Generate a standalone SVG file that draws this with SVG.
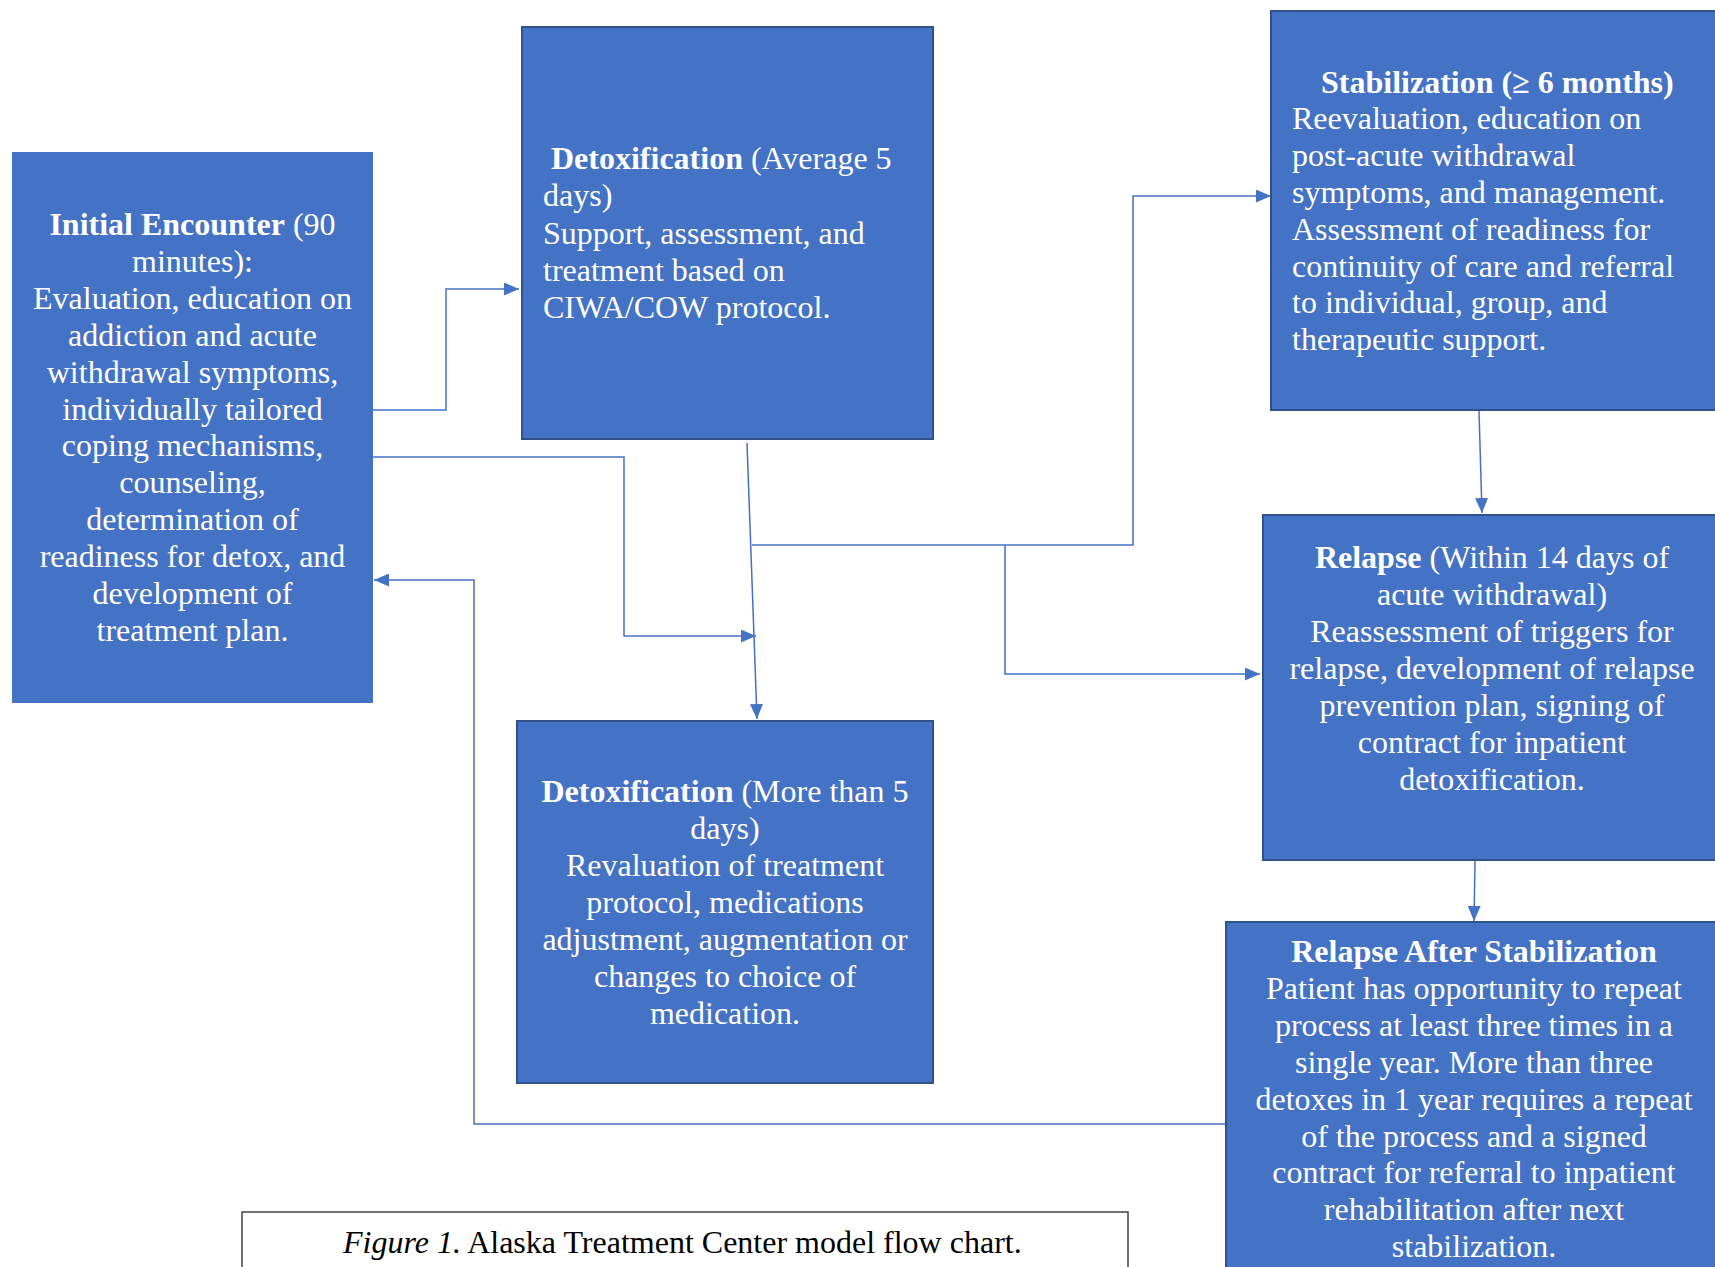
<svg xmlns="http://www.w3.org/2000/svg" width="1715" height="1267" viewBox="0 0 1715 1267">
<style>
.box{fill:#4472C4;stroke:#2F528F;stroke-width:2}
.box0{fill:#4472C4}
.t{font-family:"Liberation Serif","Times New Roman",serif;font-size:32px;fill:#FFFFFF}
.c{text-anchor:middle}
.b{font-weight:bold}
.conn{fill:none;stroke:#4472C4;stroke-width:1.5}
.cap{font-family:"Liberation Serif","Times New Roman",serif;font-size:32px;fill:#000000}
</style>
<defs>
<marker id="arr" viewBox="0 0 15 13" refX="15" refY="6.5" markerWidth="15" markerHeight="13" markerUnits="userSpaceOnUse" orient="auto">
<path d="M0,0 L15,6.5 L0,13 z" fill="#4472C4"/>
</marker>
</defs>
<rect width="1715" height="1267" fill="#FFFFFF"/>

<g id="connectors">
<path class="conn" d="M373,410 H446 V289 H519" marker-end="url(#arr)"/>
<path class="conn" d="M373,457 H624 V636 H756" marker-end="url(#arr)"/>
<path class="conn" d="M1225,1124 H474 V580 H374" marker-end="url(#arr)"/>
<path class="conn" d="M747,443 L757,719" marker-end="url(#arr)"/>
<path class="conn" d="M752,545 H1133 V196 H1271" marker-end="url(#arr)"/>
<path class="conn" d="M1005,545 V674 H1260" marker-end="url(#arr)"/>
<path class="conn" d="M1479,411 L1482,513" marker-end="url(#arr)"/>
<path class="conn" d="M1475,861 L1474,921" marker-end="url(#arr)"/>
</g>

<g id="initial">
<rect class="box0" x="12" y="152" width="361" height="551"/>
<text class="t c"><tspan x="192.5" y="235"><tspan class="b">Initial Encounter</tspan> (90</tspan><tspan x="192.5" y="272">minutes):</tspan><tspan x="192.5" y="309">Evaluation, education on</tspan><tspan x="192.5" y="346">addiction and acute</tspan><tspan x="192.5" y="383">withdrawal symptoms,</tspan><tspan x="192.5" y="420">individually tailored</tspan><tspan x="192.5" y="456">coping mechanisms,</tspan><tspan x="192.5" y="493">counseling,</tspan><tspan x="192.5" y="530">determination of</tspan><tspan x="192.5" y="567">readiness for detox, and</tspan><tspan x="192.5" y="604">development of</tspan><tspan x="192.5" y="641">treatment plan.</tspan></text>
</g>

<g id="detox-average">
<rect class="box" x="522" y="27" width="411" height="412"/>
<text class="t"><tspan x="551" y="169"><tspan class="b">Detoxification</tspan> (Average 5</tspan><tspan x="543" y="206">days)</tspan><tspan x="543" y="244">Support, assessment, and</tspan><tspan x="543" y="281">treatment based on</tspan><tspan x="543" y="318">CIWA/COW protocol.</tspan></text>
</g>

<g id="stabilization">
<rect class="box" x="1271" y="11" width="460" height="399"/>
<text class="t"><tspan class="b" x="1321" y="92.5">Stabilization (≥ 6 months)</tspan><tspan x="1292" y="129.3">Reevaluation, education on</tspan><tspan x="1292" y="166.1">post-acute withdrawal</tspan><tspan x="1292" y="202.9">symptoms, and management.</tspan><tspan x="1292" y="239.7">Assessment of readiness for</tspan><tspan x="1292" y="276.5">continuity of care and referral</tspan><tspan x="1292" y="313.3">to individual, group, and</tspan><tspan x="1292" y="350.1">therapeutic support.</tspan></text>
</g>

<g id="relapse">
<rect class="box" x="1263" y="515" width="470" height="345"/>
<text class="t c"><tspan x="1492" y="568"><tspan class="b">Relapse</tspan> (Within 14 days of</tspan><tspan x="1492" y="605">acute withdrawal)</tspan><tspan x="1492" y="642">Reassessment of triggers for</tspan><tspan x="1492" y="679">relapse, development of relapse</tspan><tspan x="1492" y="716">prevention plan, signing of</tspan><tspan x="1492" y="753">contract for inpatient</tspan><tspan x="1492" y="790">detoxification.</tspan></text>
</g>

<g id="detox-more">
<rect class="box" x="517" y="721" width="416" height="362"/>
<text class="t c"><tspan x="725" y="802"><tspan class="b">Detoxification</tspan> (More than 5</tspan><tspan x="725" y="839">days)</tspan><tspan x="725" y="876">Revaluation of treatment</tspan><tspan x="725" y="913">protocol, medications</tspan><tspan x="725" y="950">adjustment, augmentation or</tspan><tspan x="725" y="987">changes to choice of</tspan><tspan x="725" y="1024">medication.</tspan></text>
</g>

<g id="relapse-after-stabilization">
<rect class="box" x="1226" y="922" width="500" height="400"/>
<text class="t c"><tspan class="b" x="1474" y="962">Relapse After Stabilization</tspan><tspan x="1474" y="998.9">Patient has opportunity to repeat</tspan><tspan x="1474" y="1035.8">process at least three times in a</tspan><tspan x="1474" y="1072.7">single year. More than three</tspan><tspan x="1474" y="1109.6">detoxes in 1 year requires a repeat</tspan><tspan x="1474" y="1146.5">of the process and a signed</tspan><tspan x="1474" y="1183.4">contract for referral to inpatient</tspan><tspan x="1474" y="1220.3">rehabilitation after next</tspan><tspan x="1474" y="1257.2">stabilization.</tspan></text>
</g>

<g id="caption">
<rect x="242" y="1212" width="886" height="80" fill="#FFFFFF" stroke="#404040" stroke-width="1.5"/>
<text class="cap" x="343" y="1253"><tspan font-style="italic">Figure 1.</tspan> Alaska Treatment Center model flow chart.</text>
</g>
</svg>
